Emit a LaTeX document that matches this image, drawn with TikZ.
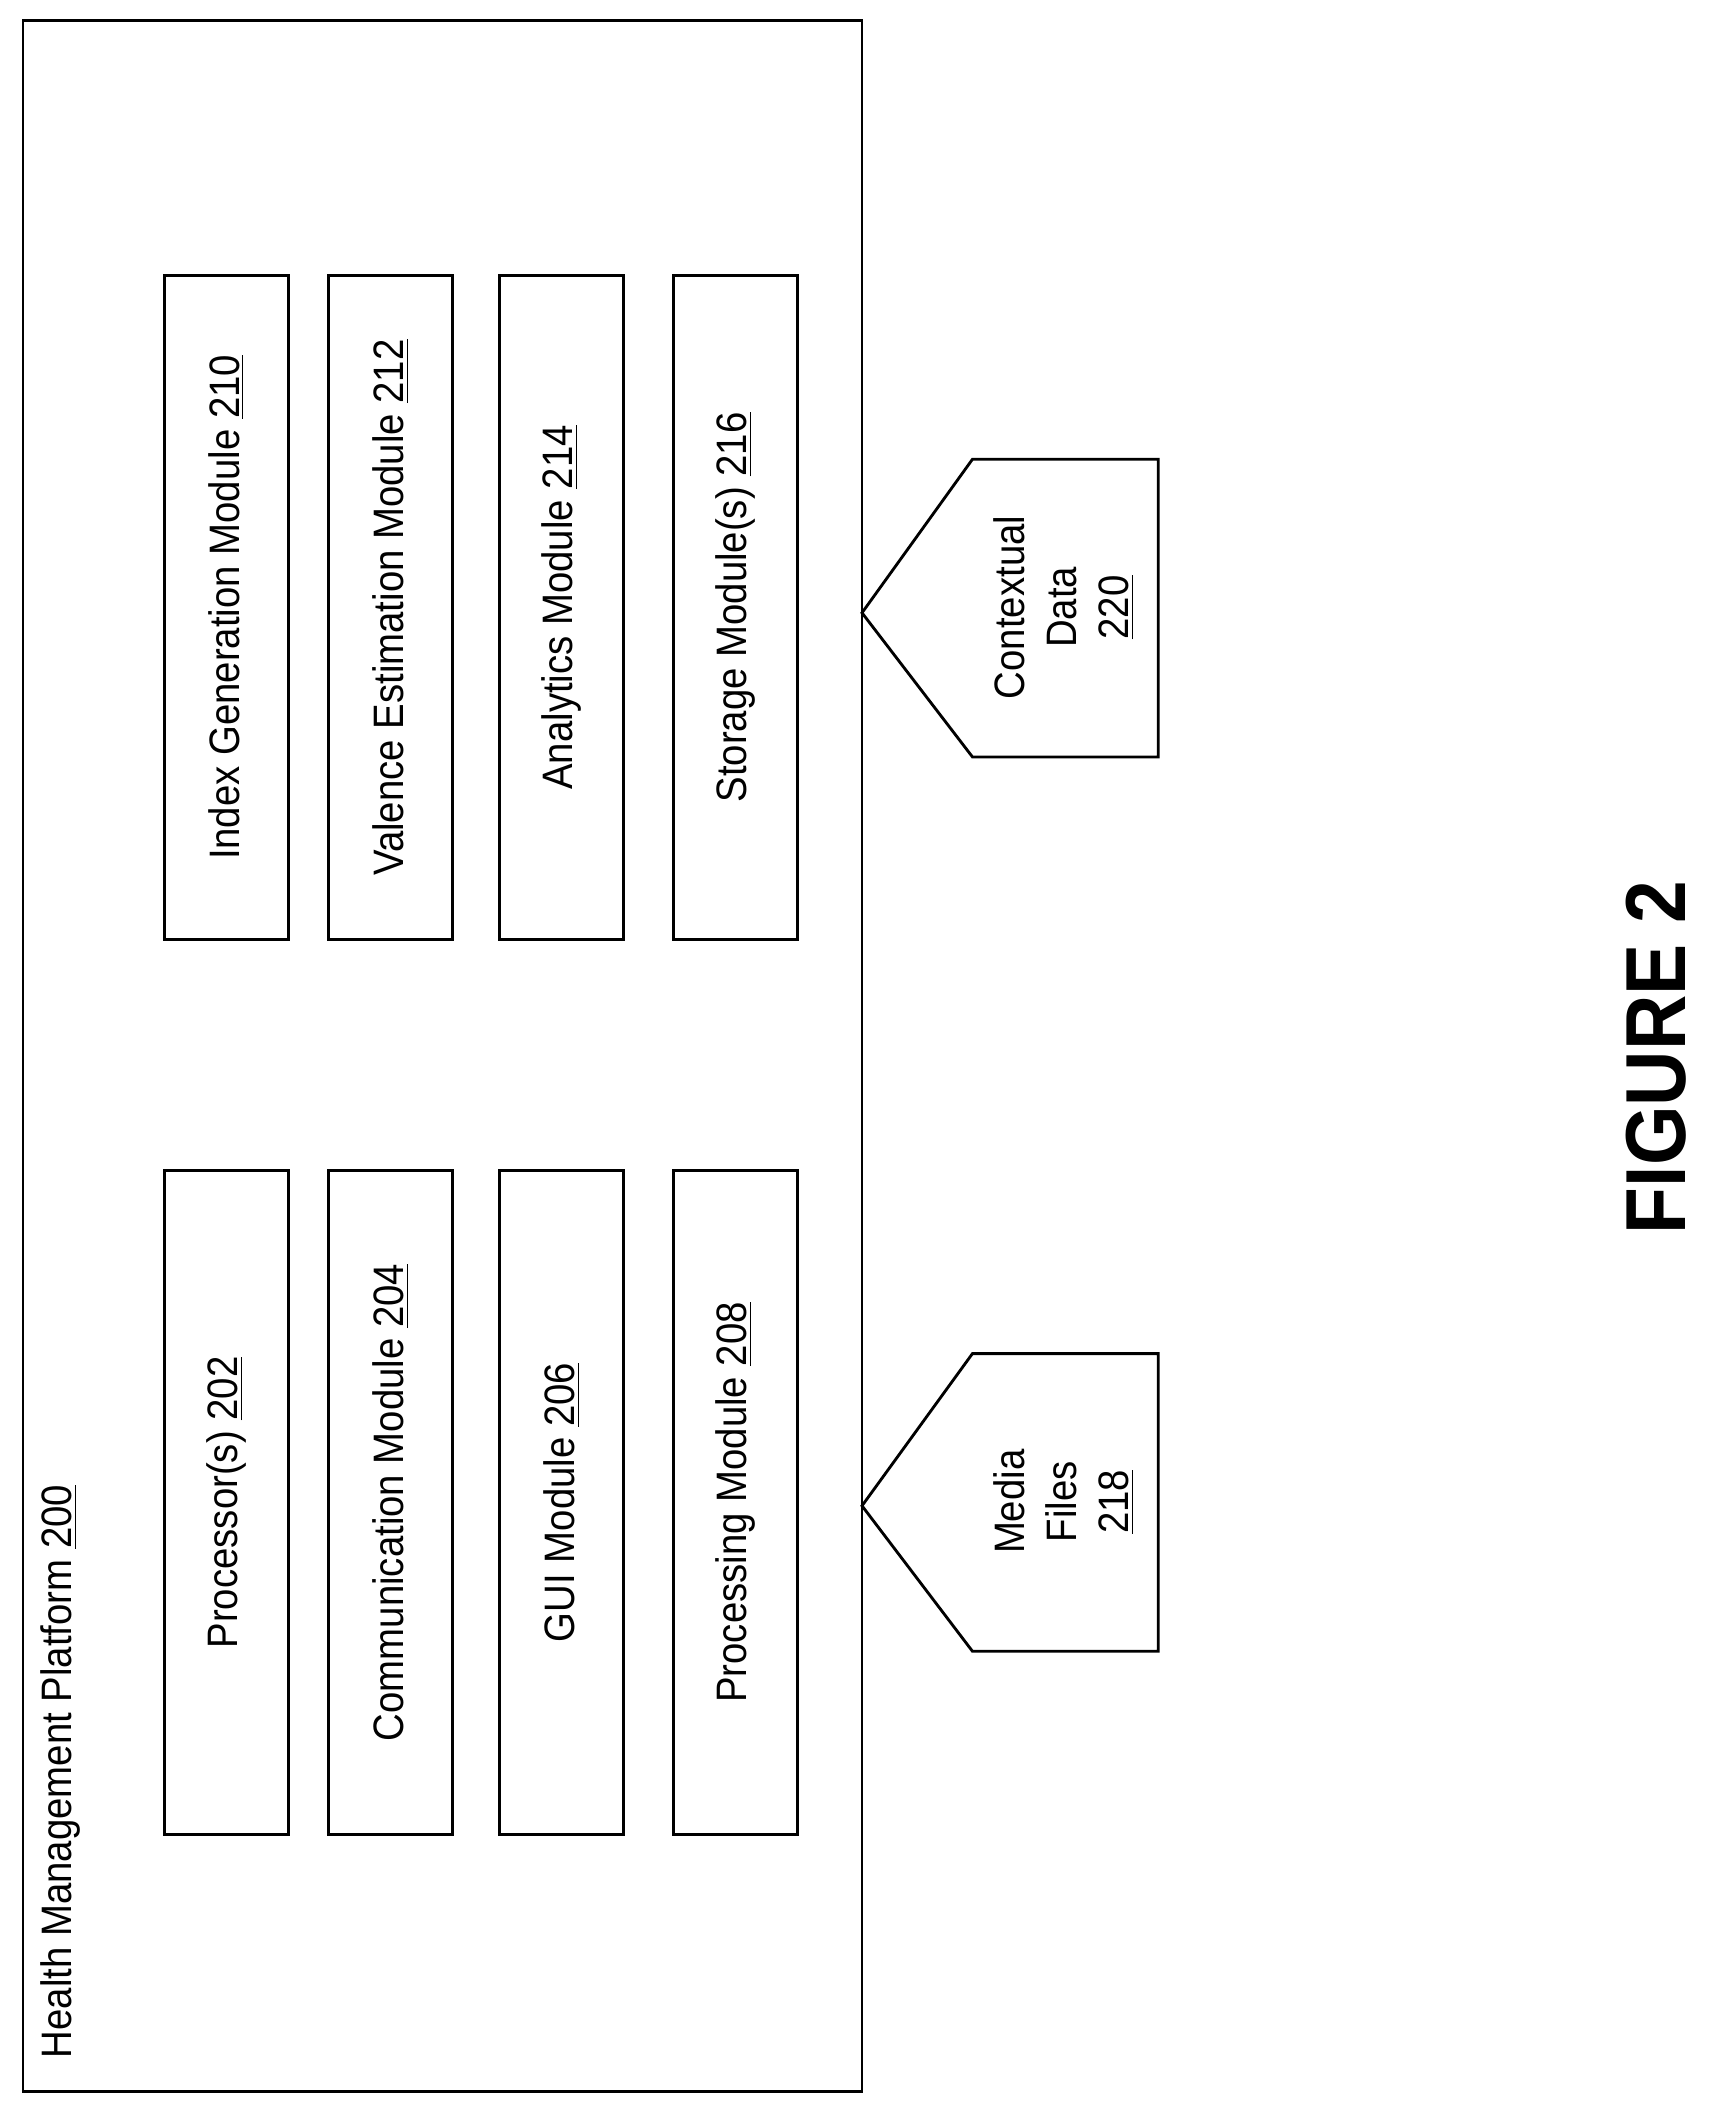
\documentclass[tikz,border=0pt]{standalone}
\usepackage{fontspec}
\setmainfont{Liberation Sans}[FakeStretch=0.9]
\usetikzlibrary{positioning}
\tikzset{>=latex}
\begin{document}
\begin{tikzpicture}[x=0.02cm, y=-0.02cm, line width=1.2pt,
			module/.style={draw,rotate=90,minimum width=9.86cm,minimum height=1.84cm,inner sep=0pt,font=\fontsize{18}{21}\selectfont},
			data/.style={rotate=90,align=center,font=\fontsize{18}{22}\selectfont},
			tag/.style={font=\fontsize{18}{21}\selectfont}]
		\useasboundingbox (0,0) rectangle (1280,1577);
		
		\node[draw,minimum width=12.46cm,minimum height=30.76cm,inner sep=0pt] (platform) at (328.5,784) {};
		\node[tag,rotate=90,anchor=west] (title) at (45,1535) {Health Management Platform \underline{200}};
		
		% The modules
		\node[module] (proc) at (168,1115.5) {Processor(s) \underline{202}};
		\node[module] (comm) at (290,1115.5) {Communication Module \underline{204}};
		\node[module] (gui)  at (417,1115.5) {GUI Module \underline{206}};
		\node[module] (pm)   at (546,1115.5) {Processing Module \underline{208}};
		\node[module] (index) at (168,451) {Index Generation Module \underline{210}};
		\node[module] (valence) at (290,451) {Valence Estimation Module \underline{212}};
		\node[module] (analytics) at (417,451) {Analytics Module \underline{214}};
		\node[module] (storage) at (546,451) {Storage Module(s) \underline{216}};
		
		% Data inputs
		\coordinate (mediatip) at (640,1118);
		\coordinate (ctxtip) at (640,455);
		\node[data] (media) at (790,1115) {Media\\Files\\\underline{218}};
		\node[data] (ctx) at (790,451) {Contextual\\Data\\\underline{220}};
		\draw (mediatip) -- (722,1005) -- (860,1005) -- (860,1226) -- (722,1226) -- cycle;
		\draw (ctxtip) -- (722,341) -- (860,341) -- (860,562) -- (722,562) -- cycle;
		
		\node[rotate=90,font=\bfseries\fontsize{36}{40}\selectfont] (fig) at (1230,785) {FIGURE 2};
	\end{tikzpicture}
\end{document}
